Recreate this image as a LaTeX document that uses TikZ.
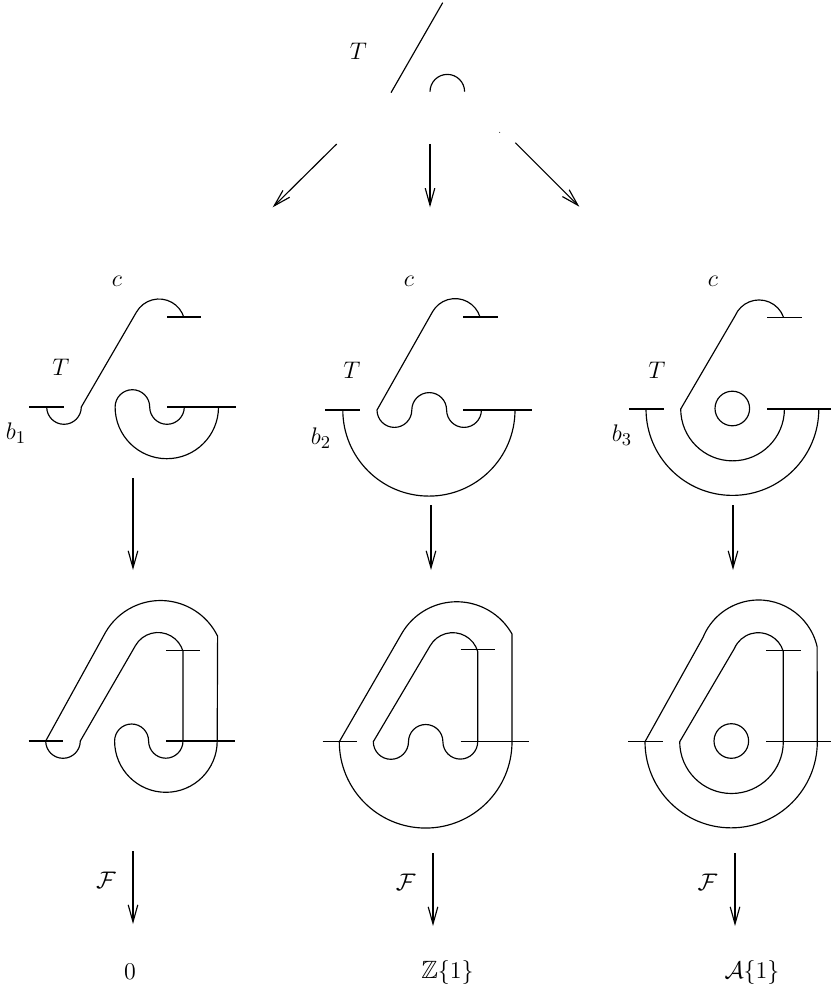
\documentclass[tikz,border=0pt]{standalone}
\usepackage{amsmath,amssymb}
\usetikzlibrary{arrows.meta}
\tikzset{
  x=0.5pt,y=0.5pt,
  curve/.style={line width=0.58pt,line join=round},
  bar/.style={line width=0.58pt},
  arrowline/.style={line width=0.58pt,-{Straight Barb[length=8.5pt,width=4.8pt,line width=0.58pt]}},
  lab/.style={inner sep=0pt,font=\fontsize{12.5}{15}\selectfont},
}
\begin{document}
\begin{tikzpicture}
\useasboundingbox (0,0) rectangle (831,-988);

% ---------- top tangle
\node[lab] (topT) at (358.3,-51.7) {$T$};
\draw[curve] (442.7,-2.7) -- (391,-92.7);
\draw[curve] (430,-91.7) arc[start angle=180,end angle=0,radius=17.3];
\fill (499.7,-132.3) circle[radius=0.5];

\coordinate (a1s) at (336.7,-144);   \coordinate (a1e) at (272.7,-207.3);
\coordinate (a2s) at (430,-144);     \coordinate (a2e) at (430,-207.3);
\coordinate (a3s) at (515.3,-142.7); \coordinate (a3e) at (579.3,-206.7);
\draw[arrowline] (a1s) -- (a1e);
\draw[arrowline] (a2s) -- (a2e);
\draw[arrowline] (a3s) -- (a3e);

% ---------- row 1, panel 1
\node[lab] (c1) at (117,-281) {$c$};
\node[lab] (T1) at (61,-367) {$T$};
\node[lab] (b1) at (16,-433) {$b_1$};
\draw[bar] (29,-407) -- (64,-407);
\draw[bar] (167,-317) -- (201,-317);
\draw[bar] (167,-407) -- (236,-407);
\draw[curve] (46.7,-407) arc[start angle=180,end angle=360,radius=17.3]
  -- (136.5,-312) arc[start angle=150,end angle=17,radius=26];
\draw[curve] (184.3,-407) arc[start angle=360,end angle=180,radius=17.3]
  arc[start angle=0,end angle=180,radius=17.3]
  arc[start angle=180,end angle=360,radius=51.7];

% ---------- row 1, panel 2
\node[lab] (c2) at (409,-281) {$c$};
\node[lab] (T2) at (352,-370) {$T$};
\node[lab] (b2) at (321,-438) {$b_2$};
\draw[bar] (325,-410) -- (360,-410);
\draw[bar] (463,-317) -- (498,-317);
\draw[bar] (463,-410) -- (532,-410);
\draw[curve] (342.8,-410) arc[start angle=180,end angle=360,radius=86.1];
\draw[curve] (480,-317) arc[start angle=17,end angle=150,radius=26]
  -- (377,-410)
  arc[start angle=180,end angle=360,radius=17.4]
  arc[start angle=180,end angle=0,radius=17.4]
  arc[start angle=180,end angle=360,radius=17.4];

% ---------- row 1, panel 3
\node[lab] (c3) at (713,-281) {$c$};
\node[lab] (T3) at (657,-370) {$T$};
\node[lab] (b3) at (622,-435) {$b_3$};
\draw[bar] (629,-409) -- (664,-409);
\draw[bar] (767,-317.5) -- (801.6,-317.5);
\draw[bar] (767,-409) -- (831,-409);
\draw[curve] (646,-409) arc[start angle=180,end angle=360,radius=86.4];
\draw[curve] (732.3,-408.5) circle[radius=17.3];
\draw[curve] (784.4,-409) arc[start angle=360,end angle=180,radius=51.85]
  -- (735.1,-315.8) arc[start angle=157,end angle=20,radius=26];

% ---------- arrows row 1 to row 2
\coordinate (m1s) at (133,-478); \coordinate (m1e) at (133,-570);
\coordinate (m2s) at (431,-505); \coordinate (m2e) at (431,-570);
\coordinate (m3s) at (733,-505); \coordinate (m3e) at (733,-570);
\draw[arrowline] (m1s) -- (m1e);
\draw[arrowline] (m2s) -- (m2e);
\draw[arrowline] (m3s) -- (m3e);

% ---------- row 2, panel 1
\draw[bar] (28.7,-741) -- (62.7,-741);
\draw[bar] (166,-650.7) -- (200,-650.7);
\draw[bar] (166,-741) -- (235,-741);
\draw[curve] (45.7,-741) arc[start angle=180,end angle=360,radius=17.3]
  -- (135.5,-645.5) arc[start angle=150,end angle=16,radius=26]
  -- (183,-741)
  arc[start angle=360,end angle=180,radius=17.2]
  arc[start angle=0,end angle=180,radius=17]
  arc[start angle=180,end angle=360,radius=51.3]
  -- (217.6,-636.2) arc[start angle=26,end angle=150,radius=63.5]
  -- cycle;

% ---------- row 2, panel 2
\draw[bar] (322.7,-741.7) -- (357.3,-741.7);
\draw[bar] (460.7,-649.3) -- (494.7,-649.3);
\draw[bar] (460.7,-741.7) -- (529.3,-741.7);
\draw[curve] (339.3,-741.7) arc[start angle=180,end angle=360,radius=86.35]
  -- (512,-634) arc[start angle=29.5,end angle=150,radius=63.5] -- cycle;
\draw[curve] (373.3,-741.7)
  arc[start angle=180,end angle=360,radius=17.6]
  arc[start angle=180,end angle=0,radius=17.2]
  arc[start angle=180,end angle=360,radius=17.4]
  -- (477.7,-651.5) arc[start angle=16,end angle=150,radius=26] -- cycle;

% ---------- row 2, panel 3
\draw[bar] (628,-741.7) -- (662.7,-741.7);
\draw[bar] (766,-650.3) -- (800.7,-650.3);
\draw[bar] (766,-741.7) -- (831,-741.7);
\draw[curve] (645,-741.7) arc[start angle=180,end angle=360,radius=86.15]
  -- (817.1,-646.7) arc[start angle=12.8,end angle=158,radius=60] -- cycle;
\draw[curve] (679.7,-741.7) arc[start angle=180,end angle=360,radius=51.8]
  -- (783.3,-651.5) arc[start angle=16,end angle=157,radius=26] -- cycle;
\draw[curve] (731.3,-741) circle[radius=17.3];

% ---------- bottom row
\coordinate (b1s) at (133,-851); \coordinate (b1e) at (133,-924);
\coordinate (b2s) at (433,-853); \coordinate (b2e) at (433,-926);
\coordinate (b3s) at (735,-853); \coordinate (b3e) at (735,-926);
\draw[arrowline] (b1s) -- (b1e);
\draw[arrowline] (b2s) -- (b2e);
\draw[arrowline] (b3s) -- (b3e);
\node[lab] (F1) at (106,-880) {$\mathcal{F}$};
\node[lab] (F2) at (405.6,-882) {$\mathcal{F}$};
\node[lab] (F3) at (707.4,-882) {$\mathcal{F}$};
\node[lab] (r1) at (130,-972) {$0$};
\node[lab] (r2) at (447.5,-972) {$\mathbb{Z}\{1\}$};
\node[lab] (r3) at (752,-972) {$\mathcal{A}\{1\}$};
\end{tikzpicture}
\end{document}
